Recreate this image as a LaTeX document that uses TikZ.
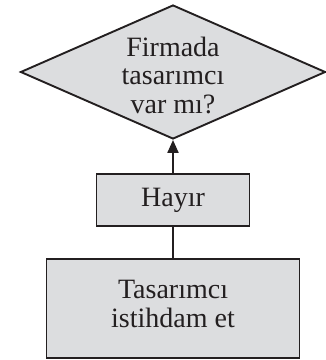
\documentclass[tikz,border=0pt]{standalone}
\usepackage{fontspec}
\setmainfont{Liberation Serif}
\usetikzlibrary{shapes.geometric,arrows.meta}
\definecolor{boxgray}{RGB}{220,221,223}
\definecolor{ink}{RGB}{35,31,32}
\tikzset{
  base/.style={draw=ink, line width=1.9pt, fill=boxgray, text=ink, inner sep=0pt},
  label/.style={text=ink, inner sep=0pt, font=\fontsize{28}{28.5}\selectfont, align=center},
  decision/.style={base, diamond, minimum width=305pt, minimum height=134pt},
  stepbox/.style={base, rectangle},
  link/.style={draw=ink, line width=2.1pt}
}
\begin{document}
\begin{tikzpicture}[x=1pt,y=-1pt]
\useasboundingbox (0,0) rectangle (326,360);
\node[decision] (q) at (173,72) {};
\node[label] (qt) at (173,75) {Firmada\\tasarımcı\\var mı?};
\node[stepbox, minimum width=153pt, minimum height=52pt] (no) at (173,200) {};
\node[label] (not) at (173,200) {Hayır};
\node[stepbox, minimum width=253pt, minimum height=99pt] (hire) at (173,308.5) {};
\node[label] (hiret) at (173,304) {Tasarımcı\\istihdam et};
\draw[link, -{Triangle[length=13pt,width=11pt]}] (no.north) -- (q.south);
\draw[link] (no.south) -- (hire.north);
\end{tikzpicture}
\end{document}
